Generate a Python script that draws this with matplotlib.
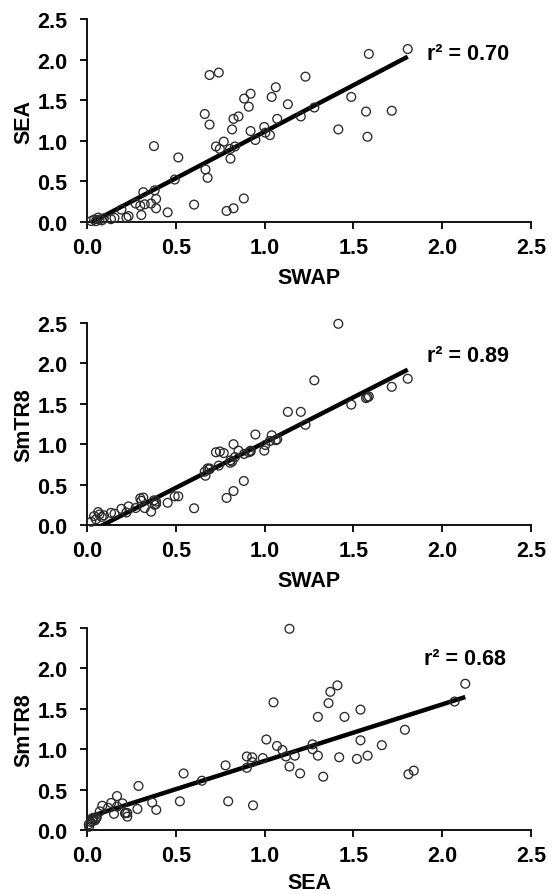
import matplotlib
matplotlib.use("Agg")
import matplotlib.pyplot as plt
import numpy as np

plt.rcParams['font.family'] = ['Liberation Sans', 'DejaVu Sans']
plt.rcParams['font.weight'] = 'bold'

# Per-sample values
swap = [1.806, 1.587, 1.716, 1.571, 1.579, 1.488, 1.415, 1.28, 1.23, 1.204,
        1.131, 1.071, 1.063, 1.04, 1.03, 1.004, 0.998, 0.948, 0.921, 0.921,
        0.911, 0.885, 0.883, 0.853, 0.833, 0.825, 0.825, 0.817, 0.808, 0.806,
        0.786, 0.77, 0.748, 0.742, 0.726, 0.69, 0.69, 0.679, 0.667, 0.663,
        0.603, 0.514, 0.494, 0.454, 0.377, 0.381, 0.389, 0.389, 0.361, 0.317,
        0.325, 0.306, 0.274, 0.30, 0.234, 0.222, 0.194, 0.155, 0.135, 0.095,
        0.083, 0.063, 0.04, 0.024, 0.05, 0.07]
sea = [2.13, 2.07, 1.37, 1.36, 1.05, 1.54, 1.14, 1.41, 1.79, 1.30,
       1.45, 1.27, 1.66, 1.54, 1.07, 1.10, 1.17, 1.01, 1.58, 1.12,
       1.42, 1.52, 0.29, 1.30, 0.93, 0.169, 1.27, 1.14, 0.78, 0.90,
       0.136, 0.99, 0.90, 1.84, 0.93, 1.81, 1.20, 0.544, 0.647, 1.33,
       0.214, 0.795, 0.523, 0.119, 0.935, 0.39, 0.284, 0.169, 0.227, 0.367,
       0.218, 0.086, 0.227, 0.20, 0.072, 0.054, 0.152, 0.05, 0.035, 0.045,
       0.02, 0.054, 0.03, 0.012, 0.01, 0.03]
smtr8 = [1.81, 1.59, 1.71, 1.57, 1.58, 1.49, 2.49, 1.79, 1.24, 1.40,
         1.40, 1.06, 1.05, 1.11, 1.04, 0.99, 0.92, 1.12, 0.92, 0.91,
         0.90, 0.88, 0.545, 0.92, 0.84, 0.42, 1.00, 0.785, 0.80, 0.77,
         0.335, 0.89, 0.91, 0.735, 0.90, 0.69, 0.70, 0.70, 0.61, 0.66,
         0.207, 0.355, 0.355, 0.275, 0.305, 0.25, 0.26, 0.29, 0.165, 0.34,
         0.21, 0.30, 0.21, 0.33, 0.23, 0.155, 0.20, 0.14, 0.15, 0.12,
         0.10, 0.16, 0.11, 0.04, 0.07, 0.13]

# Trend lines (slope, intercept) and r²
fit_slopes = [1.146, 1.12, 0.70]
fit_intercepts = [-0.034, -0.10, 0.155]
r2_labels = ["r\u00b2 = 0.70", "r\u00b2 = 0.89", "r\u00b2 = 0.68"]
x_names = ["SWAP", "SWAP", "SEA"]
y_names = ["SEA", "SmTR8", "SmTR8"]
ticks = [0.0, 0.5, 1.0, 1.5, 2.0, 2.5]
tick_labels = ["0.0", "0.5", "1.0", "1.5", "2.0", "2.5"]

data = {"SWAP": np.array(swap), "SEA": np.array(sea), "SmTR8": np.array(smtr8)}

fig = plt.figure(figsize=(5.53, 8.95), dpi=100)
bottoms = [1 - 223 / 895, 1 - 526 / 895, 1 - 831 / 895]
heights = [203 / 895, 202 / 895, 202 / 895]
r2_pos = [(1.914, 2.07), (1.914, 2.10), (1.90, 2.12)]
xlabel_pads = [6.5, 6.5, 4.0]

for i in range(3):
    ax = fig.add_axes([87 / 553, bottoms[i], 444 / 553, heights[i]])
    xv = data[x_names[i]]
    yv = data[y_names[i]]
    ax.scatter(xv, yv, s=40, facecolors='none', edgecolors='#2a2a2a',
               linewidths=0.95, zorder=3, clip_on=False)
    xl = np.array([xv.min(), xv.max()])
    ax.plot(xl, fit_slopes[i] * xl + fit_intercepts[i], color='black',
            lw=3.2, zorder=2, solid_capstyle='butt')
    ax.set_xlim(0, 2.5)
    ax.set_ylim(0, 2.5)
    ax.set_xticks(ticks)
    ax.set_xticklabels(tick_labels)
    ax.set_yticks(ticks)
    ax.set_yticklabels(tick_labels)
    for s in ['top', 'right']:
        ax.spines[s].set_visible(False)
    for s in ['left', 'bottom']:
        ax.spines[s].set_linewidth(1.3)
        ax.spines[s].set_color('black')
    ax.tick_params(axis='both', direction='out', length=5, width=1.3,
                   labelsize=15.5)
    ax.tick_params(axis='y', pad=9)
    ax.tick_params(axis='x', pad=6)
    for lab in ax.get_xticklabels() + ax.get_yticklabels():
        lab.set_fontweight('bold')
    ax.set_xlabel(x_names[i], fontsize=15.5, fontweight='bold',
                  labelpad=xlabel_pads[i])
    ax.set_ylabel(y_names[i], fontsize=15.5, fontweight='bold', labelpad=2)
    ax.text(r2_pos[i][0], r2_pos[i][1], r2_labels[i], fontsize=15.5,
            fontweight='bold', va='center', ha='left')

fig.savefig("out.png", dpi=100)
